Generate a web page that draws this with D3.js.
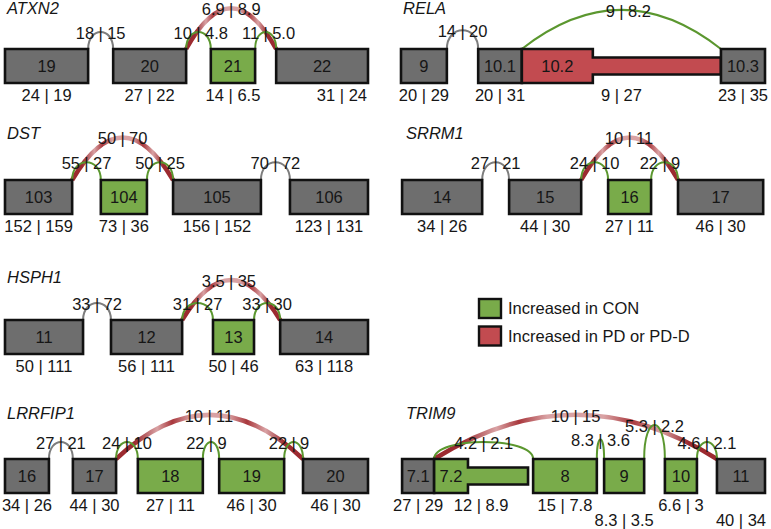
<!DOCTYPE html>
<html>
<head>
<meta charset="utf-8">
<script src="https://cdn.jsdelivr.net/npm/d3@7"></script>
<style>
  body { margin: 0; background: #fff; }
  svg { display: block; font-family: "Liberation Sans", Arial, Helvetica, sans-serif; }
</style>
</head>
<body>
<svg id="chart" width="771" height="529"></svg>
<script>
'use strict';

/*** Data */
/** Exons: position along the gene track (0-100), call, counts CON | PD */
const atxn2Exons = [
  { name: "19", start: 0,    end: 22.9, call: "ns",  counts: ["24", "19"] },
  { name: "20", start: 29.8, end: 49.9, call: "ns",  counts: ["27", "22"] },
  { name: "21", start: 56.7, end: 68.9, call: "con", counts: ["14", "6.5"] },
  { name: "22", start: 74.7, end: 100,  call: "ns",  counts: ["31", "24"] }
];
const relaExons = [
  { name: "9",    start: 0,    end: 12.6, call: "ns", counts: ["20", "29"] },
  { name: "10.1", start: 21.2, end: 33.2, call: "ns", counts: ["20", "31"] },
  { name: "10.2", start: 33.2, end: 87.9, thickEnd: 52.7, call: "pd", counts: ["9", "27"] },
  { name: "10.3", start: 87.9, end: 100,  call: "ns", counts: ["23", "35"] }
];
const dstExons = [
  { name: "103", start: 0,    end: 18.5, call: "ns",  counts: ["152", "159"] },
  { name: "104", start: 26.4, end: 39.1, call: "con", counts: ["73", "36"] },
  { name: "105", start: 46.3, end: 70.5, call: "ns",  counts: ["156", "152"] },
  { name: "106", start: 78.5, end: 100,  call: "ns",  counts: ["123", "131"] }
];
const srrm1Exons = [
  { name: "14", start: 0.3,  end: 22.3, call: "ns",  counts: ["34", "26"] },
  { name: "15", start: 29.7, end: 49.5, call: "ns",  counts: ["44", "30"] },
  { name: "16", start: 56.9, end: 68.7, call: "con", counts: ["27", "11"] },
  { name: "17", start: 76.1, end: 99.5, call: "ns",  counts: ["46", "30"] }
];
const hsph1Exons = [
  { name: "11", start: 0,    end: 21.5, call: "ns",  counts: ["50", "111"] },
  { name: "12", start: 29.2, end: 48.8, call: "ns",  counts: ["56", "111"] },
  { name: "13", start: 57.3, end: 68.6, call: "con", counts: ["50", "46"] },
  { name: "14", start: 75.8, end: 100,  call: "ns",  counts: ["63", "118"] }
];
const lrrfip1Exons = [
  { name: "16", start: 0,    end: 12.1, call: "ns",  counts: ["34", "26"] },
  { name: "17", start: 18.7, end: 30.6, call: "ns",  counts: ["44", "30"] },
  { name: "18", start: 36.6, end: 54.5, call: "con", counts: ["27", "11"] },
  { name: "19", start: 59,   end: 76.9, call: "con", counts: ["46", "30"] },
  { name: "20", start: 82.1, end: 100,  call: "ns",  counts: ["46", "30"] }
];
const trim9Exons = [
  { name: "7.1", start: 0.3,  end: 9.1,  call: "ns",  counts: ["27", "29"] },
  { name: "7.2", start: 9.1,  end: 34.9, thickEnd: 18.4, call: "con", counts: ["12", "8.9"] },
  { name: "8",   start: 36.3, end: 53.8, call: "con", counts: ["15", "7.8"] },
  { name: "9",   start: 55.8, end: 66.8, call: "con", counts: ["8.3", "3.5"] },
  { name: "10",  start: 72.5, end: 81.3, call: "con", counts: ["6.6", "3"] },
  { name: "11",  start: 86.8, end: 100,  call: "ns",  counts: ["40", "34"] }
];

/** Junctions: from / to on the track, arc height (in small-arc units), counts */
const atxn2Junctions = [
  { from: 22.9, to: 29.8, height: 1.0, call: "ns",  counts: ["18", "15"] },
  { from: 49.9, to: 56.7, height: 1.0, call: "con", counts: ["10", "4.8"] },
  { from: 68.9, to: 74.7, height: 1.0, call: "con", counts: ["11", "5.0"] },
  { from: 49.9, to: 74.7, height: 2.4, call: "pd",  counts: ["6.9", "8.9"] }
];
const relaJunctions = [
  { from: 12.6, to: 21.2, height: 1.1, call: "ns",  counts: ["14", "20"] },
  { from: 33.2, to: 87.9, height: 2.3, call: "con", counts: ["9", "8.2"] }
];
const dstJunctions = [
  { from: 18.5, to: 26.4, height: 1.05, call: "con", counts: ["55", "27"] },
  { from: 39.1, to: 46.3, height: 1.05, call: "con", counts: ["50", "25"] },
  { from: 70.5, to: 78.5, height: 1.05, call: "ns",  counts: ["70", "72"] },
  { from: 18.5, to: 46.3, height: 2.5,  call: "pd",  counts: ["50", "70"] }
];
const srrm1Junctions = [
  { from: 22.3, to: 29.7, height: 1.05, call: "ns",  counts: ["27", "21"] },
  { from: 49.5, to: 56.9, height: 1.05, call: "con", counts: ["24", "10"] },
  { from: 68.7, to: 76.1, height: 1.05, call: "con", counts: ["22", "9"] },
  { from: 49.5, to: 76.1, height: 2.5,  call: "pd",  counts: ["10", "11"] }
];
const hsph1Junctions = [
  { from: 21.5, to: 29.2, height: 1.0,  call: "ns",  counts: ["33", "72"] },
  { from: 48.8, to: 57.3, height: 1.0,  call: "con", counts: ["31", "27"] },
  { from: 68.6, to: 75.8, height: 1.0,  call: "con", counts: ["33", "30"] },
  { from: 48.8, to: 75.8, height: 2.35, call: "pd",  counts: ["3.5", "35"] }
];
const lrrfip1Junctions = [
  { from: 12.1, to: 18.7, height: 1.0, call: "ns",  counts: ["27", "21"] },
  { from: 30.6, to: 36.6, height: 1.0, call: "con", counts: ["24", "10"] },
  { from: 54.5, to: 59,   height: 1.0, call: "con", counts: ["22", "9"] },
  { from: 76.9, to: 82.1, height: 1.0, call: "con", counts: ["22", "9"] },
  { from: 30.6, to: 82.1, height: 2.6, call: "pd",  counts: ["10", "11"] }
];
const trim9Junctions = [
  { from: 9.1,  to: 36.3, height: 1.0,  call: "con", counts: ["4.2", "2.1"] },
  { from: 53.8, to: 55.8, height: 1.15, call: "con", counts: ["8.3", "3.6"] },
  { from: 66.8, to: 72.5, height: 2.0,  call: "con", counts: ["5.3", "2.2"] },
  { from: 81.3, to: 86.8, height: 1.0,  call: "con", counts: ["4.6", "2.1"] },
  { from: 9.1,  to: 86.8, height: 2.6,  call: "pd",  counts: ["10", "15"] }
];

const legendItems = [
  { label: "Increased in CON", call: "con" },
  { label: "Increased in PD or PD-D", call: "pd" }
];

/*** Layout (not data) */
const panels = [
  { gene: "ATXN2",   exons: atxn2Exons,   junctions: atxn2Junctions,   x0: 5,   x1: 368, top: 49,  labelX: 7,   labelY: 8 },
  { gene: "RELA",    exons: relaExons,    junctions: relaJunctions,    x0: 401, x1: 765, top: 49,  labelX: 403, labelY: 8 },
  { gene: "DST",     exons: dstExons,     junctions: dstJunctions,     x0: 5,   x1: 368, top: 180, labelX: 7,   labelY: 133 },
  { gene: "SRRM1",   exons: srrm1Exons,   junctions: srrm1Junctions,   x0: 401, x1: 765, top: 180, labelX: 406, labelY: 133 },
  { gene: "HSPH1",   exons: hsph1Exons,   junctions: hsph1Junctions,   x0: 5,   x1: 368, top: 320, labelX: 7,   labelY: 277 },
  { gene: "LRRFIP1", exons: lrrfip1Exons, junctions: lrrfip1Junctions, x0: 5,   x1: 368, top: 459, labelX: 7,   labelY: 413 },
  { gene: "TRIM9",   exons: trim9Exons,   junctions: trim9Junctions,   x0: 401, x1: 765, top: 459, labelX: 406, labelY: 413 }
];
const countAlignEnd = new Set(["ATXN2 22"]);       // count label pushed to right edge
const countLowRow = new Set(["TRIM9 9", "TRIM9 11"]); // count label on a second line

const boxH = 34;
const unitArc = 17; // px per arc-height unit
const fs = 16.5;
const fill = { ns: "#6e6e6e", con: "#79ab4a", pd: "#c24b50" };
const arcColor = { ns: "#7d7d7d", con: "#5b972f" };
const textColor = "#161616";

const svg = d3.select("#chart");

/* candy-stripe gradient for the PD arcs */
const grad = svg.append("defs").append("linearGradient")
  .attr("id", "pdArc")
  .attr("x1", 0).attr("x2", 1).attr("y1", 0).attr("y2", 0);
[[0, "#9c2a30"], [0.1, "#9c2a30"], [0.22, "#d9a2a4"], [0.3, "#a9383d"], [0.4, "#d9a2a4"],
 [0.6, "#d9a2a4"], [0.7, "#a9383d"], [0.8, "#d9a2a4"], [0.9, "#9c2a30"], [1, "#9c2a30"]]
  .forEach(([o, c]) => grad.append("stop").attr("offset", o).attr("stop-color", c));

const arcPath = (xa, xb, yb, yp, quad) => {
  if (quad) {
    return `M${xa},${yb} Q${(xa + xb) / 2},${2 * yp - yb} ${xb},${yb}`;
  }
  const cy = yb - (yb - yp) / 0.75;
  return `M${xa},${yb} C${xa},${cy} ${xb},${cy} ${xb},${yb}`;
};

panels.forEach(p => {
  const x = d3.scaleLinear().domain([0, 100]).range([p.x0, p.x1]);
  const y = d3.scaleLinear().domain([0, 1]).range([p.top, p.top - unitArc]);
  const g = svg.append("g").attr("class", "panel");

  /** Gene name */
  g.append("text")
    .attr("x", p.labelX).attr("y", p.labelY).attr("dy", "0.35em")
    .attr("font-size", fs).attr("font-style", "italic")
    .attr("fill", textColor)
    .text(p.gene);

  /** Junction arcs: PD arcs underneath */
  const sorted = p.junctions.slice().sort((a, b) => (b.call === "pd") - (a.call === "pd"));
  g.selectAll("path.arc")
    .data(sorted)
    .enter().append("path")
    .attr("class", "arc")
    .attr("d", d => arcPath(x(d.from), x(d.to), y(0), y(d.height), d.height >= 2.3))
    .attr("fill", "none")
    .attr("stroke", d => d.call === "pd" ? "url(#pdArc)" : arcColor[d.call])
    .attr("stroke-width", d => d.call === "pd" ? 4.5 : 2);

  /** Exons */
  g.selectAll("path.exon")
    .data(p.exons)
    .enter().append("path")
    .attr("class", "exon")
    .attr("d", d => {
      const xa = x(d.start), xb = x(d.end), t = y(0), b = y(0) + boxH;
      if (d.thickEnd === undefined) return `M${xa},${t}H${xb}V${b}H${xa}Z`;
      const xt = x(d.thickEnd), ins = boxH / 4;
      return `M${xa},${t}H${xt}V${t + ins}H${xb}V${b - ins}H${xt}V${b}H${xa}Z`;
    })
    .attr("fill", d => fill[d.call])
    .attr("stroke", "#111")
    .attr("stroke-width", 2.6)
    .attr("stroke-linejoin", "miter");

  g.selectAll("text.exon-name")
    .data(p.exons)
    .enter().append("text")
    .attr("class", "exon-name")
    .attr("x", d => (x(d.start) + x(d.thickEnd === undefined ? d.end : d.thickEnd)) / 2)
    .attr("y", y(0) + boxH / 2).attr("dy", "0.36em")
    .attr("text-anchor", "middle")
    .attr("font-size", fs).attr("fill", textColor)
    .text(d => d.name);

  /** Exon counts */
  g.selectAll("text.exon-count")
    .data(p.exons)
    .enter().append("text")
    .attr("class", "exon-count")
    .attr("x", d => countAlignEnd.has(p.gene + " " + d.name) ? x(d.end) - 1 : (x(d.start) + x(d.end)) / 2)
    .attr("y", d => y(0) + boxH + (countLowRow.has(p.gene + " " + d.name) ? 27 : 12))
    .attr("dy", "0.36em")
    .attr("text-anchor", d => countAlignEnd.has(p.gene + " " + d.name) ? "end" : "middle")
    .attr("font-size", fs).attr("fill", textColor)
    .text(d => d.counts.join(" | "));

  /** Junction counts: bar sits on the arc apex */
  const jl = g.selectAll("g.jlabel")
    .data(p.junctions)
    .enter().append("g")
    .attr("class", "jlabel")
    .attr("transform", d => `translate(${(x(d.from) + x(d.to)) / 2},${y(d.height) + 1})`)
    .attr("font-size", fs).attr("fill", textColor);
  jl.append("text").attr("x", -6.5).attr("dy", "0.36em").attr("text-anchor", "end").text(d => d.counts[0]);
  jl.append("text").attr("x", 0).attr("dy", "0.36em").attr("text-anchor", "middle").text("|");
  jl.append("text").attr("x", 6.5).attr("dy", "0.36em").attr("text-anchor", "start").text(d => d.counts[1]);
});

/*** Legend */
const legend = svg.append("g").attr("transform", "translate(479,299)");
const li = legend.selectAll("g")
  .data(legendItems)
  .enter().append("g")
  .attr("transform", (d, i) => `translate(0,${i * 27.5})`);
li.append("rect")
  .attr("width", 22).attr("height", 19)
  .attr("fill", d => fill[d.call])
  .attr("stroke", "#111").attr("stroke-width", 2.4);
li.append("text")
  .attr("x", 29).attr("y", 9.5).attr("dy", "0.36em")
  .attr("font-size", fs).attr("fill", textColor)
  .text(d => d.label);
</script>
</body>
</html>
